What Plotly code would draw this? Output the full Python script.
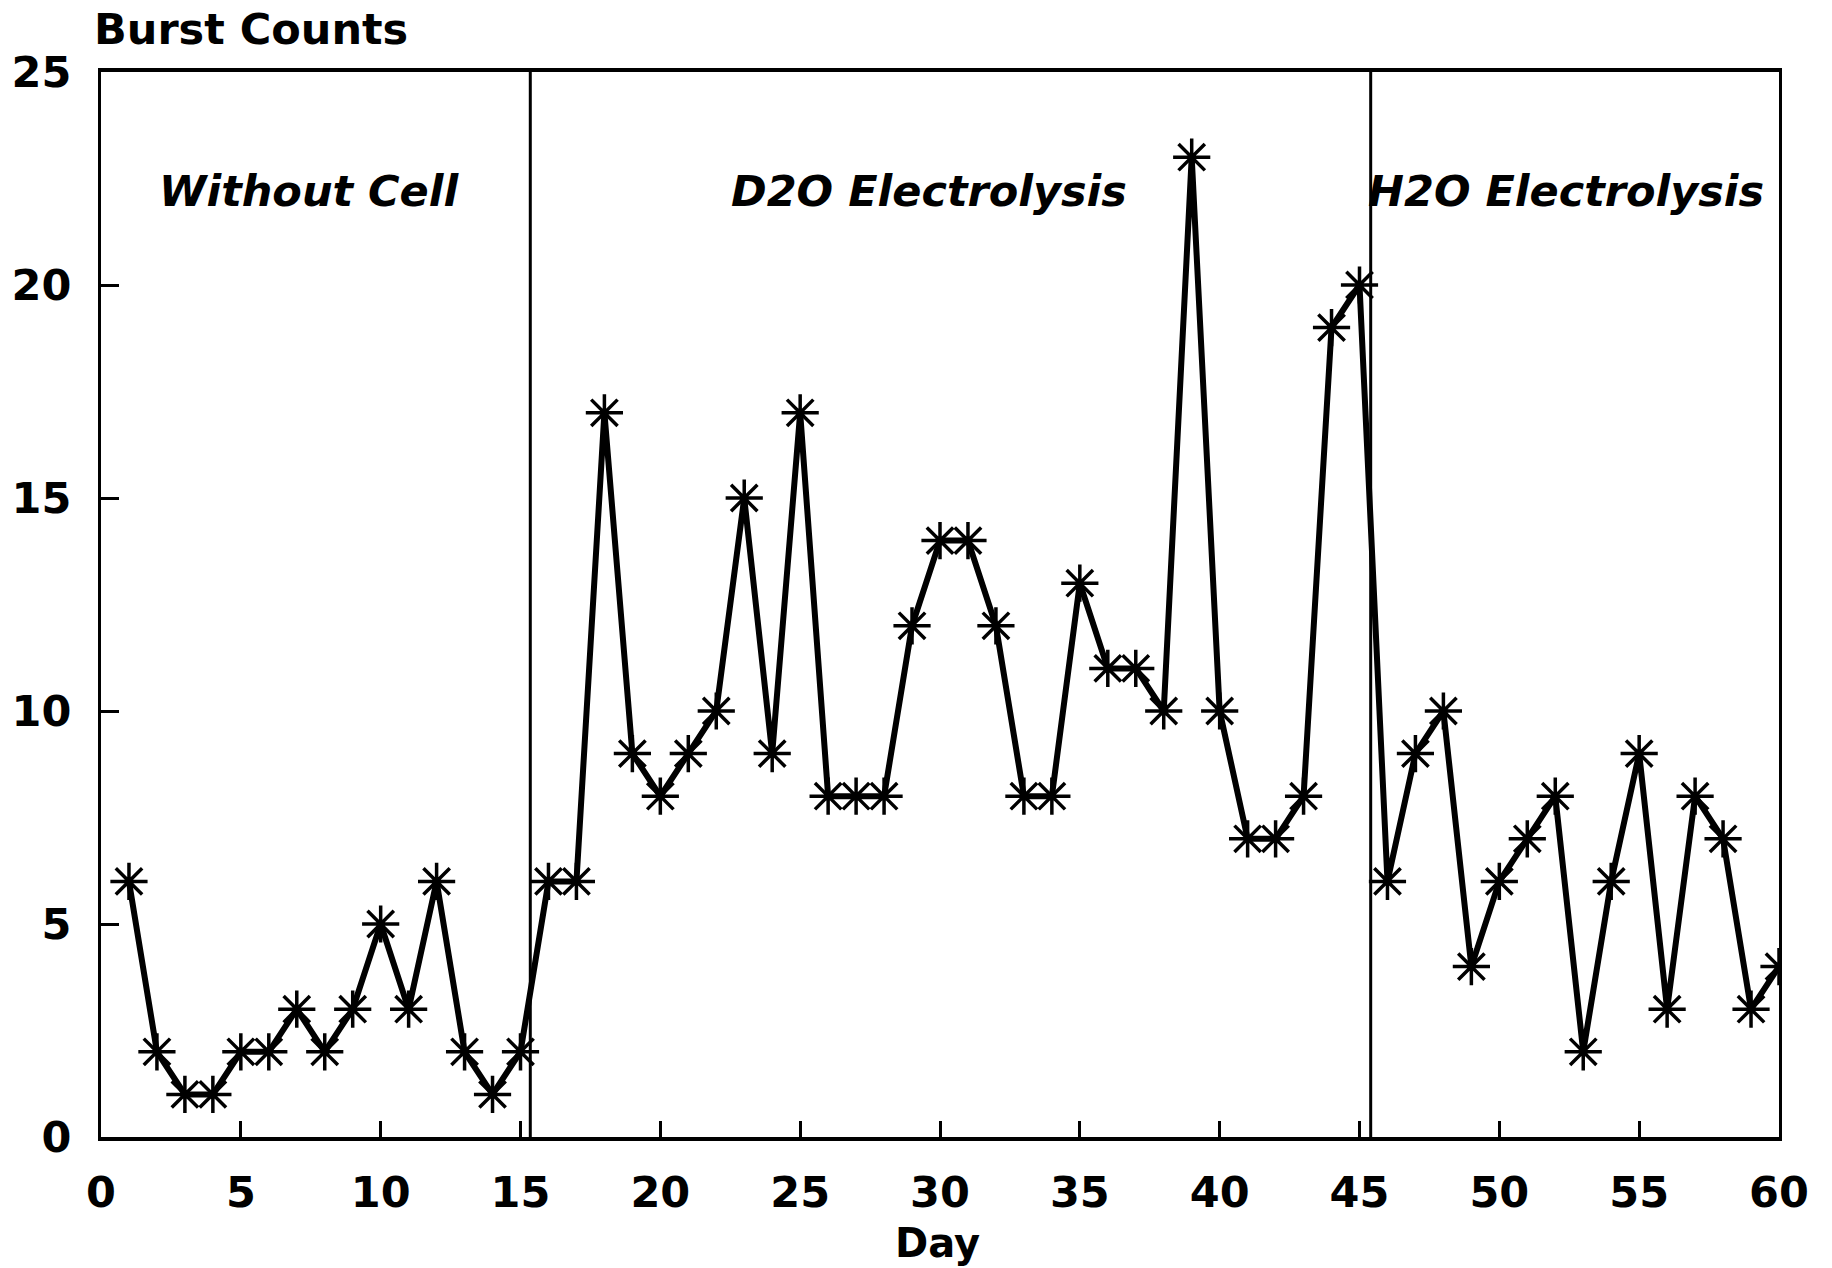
import plotly.graph_objects as go

days = list(range(1, 61))
burst_counts = [6, 2, 1, 1, 2, 2, 3, 2, 3, 5,
                3, 6, 2, 1, 2, 6, 6, 17, 9, 8,
                9, 10, 15, 9, 17, 8, 8, 8, 12, 14,
                14, 12, 8, 8, 13, 11, 11, 10, 23, 10,
                7, 7, 8, 19, 20, 6, 9, 10, 4, 6,
                7, 8, 2, 6, 9, 3, 8, 7, 3, 4]

x_ticks = [0, 5, 10, 15, 20, 25, 30, 35, 40, 45, 50, 55, 60]
y_ticks = [0, 5, 10, 15, 20, 25]

dividers = [15.35, 45.4]
phase_labels = ["Without Cell", "D2O Electrolysis", "H2O Electrolysis"]
phase_label_x = [7.45, 29.6, 52.4]
phase_label_y = 22.2

FONT = "DejaVu Sans, Liberation Sans, sans-serif"

fig = go.Figure()
fig.add_trace(go.Scatter(
    x=days, y=burst_counts, mode="lines+markers",
    line=dict(color="black", width=6),
    marker=dict(symbol="asterisk-open", size=31, color="black",
                line=dict(color="black", width=3.5)),
    showlegend=False,
))

for d in dividers:
    fig.add_shape(type="line", xref="x", yref="y", x0=d, x1=d, y0=0, y1=25,
                  line=dict(color="black", width=3))

for lbl, lx in zip(phase_labels, phase_label_x):
    fig.add_annotation(x=lx, y=phase_label_y, xref="x", yref="y",
                       text="<b><i>" + lbl + "</i></b>", showarrow=False,
                       font=dict(family=FONT, size=43, color="black"))

fig.add_annotation(x=-0.0054, y=1.04, xref="paper", yref="paper", xanchor="left",
                   yanchor="middle", text="<b>Burst Counts</b>", showarrow=False,
                   font=dict(family=FONT, size=43, color="black"))
fig.add_annotation(x=29.9, y=-0.123, xref="x", yref="paper", xanchor="center",
                   yanchor="bottom", text="<b>Day</b>", showarrow=False,
                   font=dict(family=FONT, size=40, color="black"))

fig.update_layout(
    width=1832, height=1268,
    margin=dict(l=97, r=53, t=72, b=131),
    paper_bgcolor="white", plot_bgcolor="white",
    font=dict(family=FONT, color="black"),
)
fig.update_xaxes(range=[0, 60], tickvals=x_ticks, ticktext=[str(v) for v in x_ticks],
                 ticks="inside", ticklen=16, tickwidth=3, tickcolor="black",
                 showline=True, linecolor="black", linewidth=4, mirror=True,
                 showgrid=False, zeroline=False, ticklabelstandoff=14,
                 tickfont=dict(family=FONT, size=43, color="black", weight="bold"))
fig.update_yaxes(range=[0, 25], tickvals=y_ticks, ticktext=[str(v) for v in y_ticks],
                 ticks="inside", ticklen=18, tickwidth=3, tickcolor="black",
                 showline=True, linecolor="black", linewidth=3, mirror=True,
                 showgrid=False, zeroline=False, ticklabelstandoff=18,
                 tickfont=dict(family=FONT, size=43, color="black", weight="bold"))

fig.write_html("out.html")
